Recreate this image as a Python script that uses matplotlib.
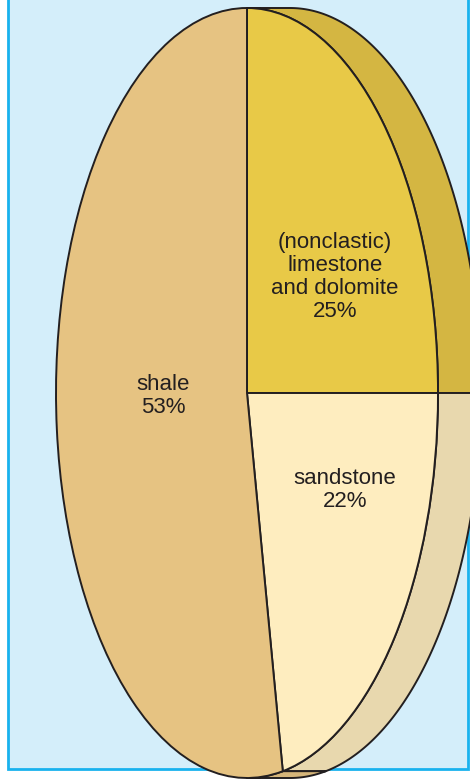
import numpy as np
import matplotlib
matplotlib.use("Agg")
import matplotlib.pyplot as plt
from matplotlib.patches import Polygon, Rectangle

# composition of sedimentary rocks (percent)
labels = ["(nonclastic)\nlimestone\nand dolomite", "sandstone", "shale"]
shares = [25, 22, 53]
face_colors = ["#E8C947", "#FEEDBF", "#E6C382"]
side_colors = ["#D4B642", "#E8D8AE", "#D6B67A"]
label_pos = [(335, 277), (345, 490), (163, 396)]

W, H = 470, 780
cx, cy = 247, 393       # centre of the front face (pixels)
rx, ry = 191, 385       # semi axes of the front face
depth = 43              # sideways thickness of the disc

fig = plt.figure(figsize=(W / 100, H / 100), dpi=100)
fig.patch.set_facecolor("white")

# light blue panel behind the chart
bg = fig.add_axes([0, 0, 1, 1], zorder=0)
bg.set_xlim(0, W)
bg.set_ylim(H, 0)
bg.axis("off")
bg.add_patch(Rectangle((7.5, -5), 460.5, 773.5, facecolor="#D4EEFA",
                       edgecolor="#19B2EE", linewidth=2.0))

# pie axes in unit-circle coordinates, stretched to an ellipse
ax = fig.add_axes([0, 0, 1, 1], zorder=1)
ax.patch.set_alpha(0)

edge = "#231F20"
lw = 1.4
off = depth / rx

# side walls: sweep the right half of each slice's rim sideways
start = 90.0
for val, col in zip(shares, side_colors):
    t1 = start - 360 * val / sum(shares)
    a, b = max(t1, -90), min(start, 90)
    if b > a:
        th = np.radians(np.linspace(a, b, 200))
        front = np.column_stack([np.cos(th), np.sin(th)])
        back = front[::-1] + [off, 0]
        ax.add_patch(Polygon(np.vstack([front, back]), closed=True,
                             facecolor=col, edgecolor=edge, linewidth=lw,
                             joinstyle="round", zorder=1))
    start = t1

ax.pie(shares, colors=face_colors, startangle=90, counterclock=False,
       radius=1, center=(0, 0), frame=True,
       wedgeprops=dict(edgecolor=edge, linewidth=lw, zorder=2))
ax.set_aspect("auto")
ax.set_xlim(-cx / rx, (W - cx) / rx)
ax.set_ylim(-(H - cy) / ry, cy / ry)
ax.axis("off")

# slice labels on top of everything
txt_ax = fig.add_axes([0, 0, 1, 1], zorder=2)
txt_ax.set_xlim(0, W)
txt_ax.set_ylim(H, 0)
txt_ax.axis("off")
for lab, val, (px, py) in zip(labels, shares, label_pos):
    txt_ax.text(px, py, f"{lab}\n{val}%", ha="center", va="center",
                fontsize=16, family="Liberation Sans", color="#231F20",
                linespacing=1.12)

fig.savefig("out.png", dpi=100)
